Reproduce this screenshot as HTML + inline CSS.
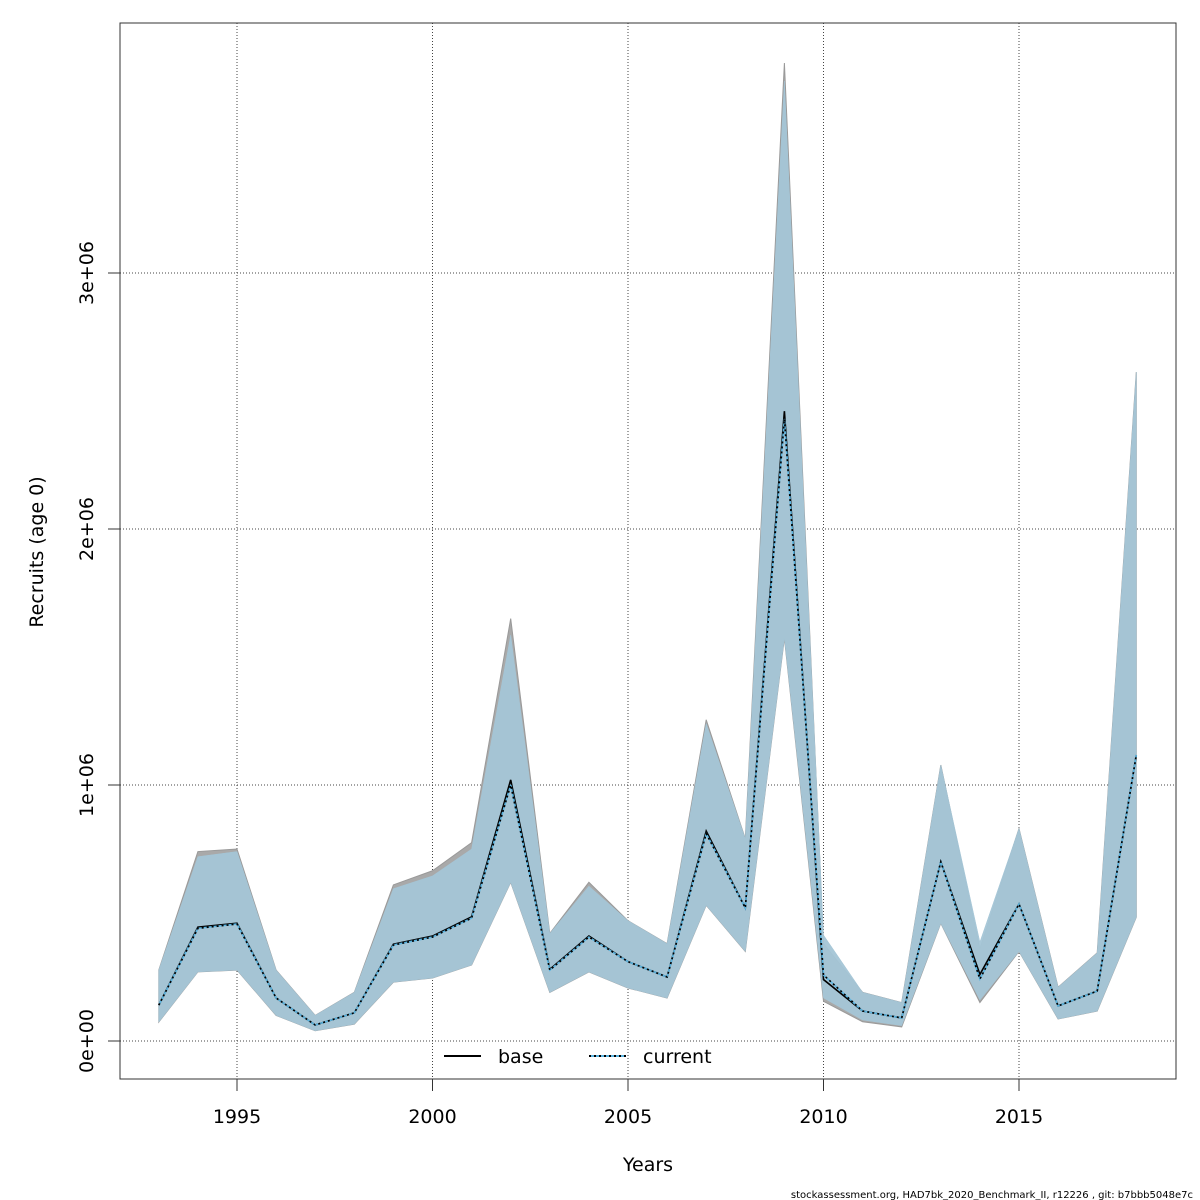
<!DOCTYPE html>
<html><head><meta charset="utf-8"><style>
html,body{margin:0;padding:0;background:#fff;}
svg{display:block;font-family:"DejaVu Sans","Liberation Sans",sans-serif;}
</style></head><body>
<svg id="chart" width="1200" height="1200">
<rect width="1200" height="1200" fill="#fff"/>
</svg>
<script>
const years=[1993,1994,1995,1996,1997,1998,1999,2000,2001,2002,2003,2004,2005,2006,2007,2008,2009,2010,2011,2012,2013,2014,2015,2016,2017,2018];
const curMean=[0.14,0.44,0.457,0.168,0.0625,0.11,0.375,0.406,0.48,1.0,0.277,0.406,0.31,0.25,0.81,0.52,2.43,0.258,0.117,0.09,0.70,0.242,0.535,0.137,0.195,1.117];
const curLow=[0.074,0.27,0.277,0.10,0.04,0.066,0.23,0.246,0.297,0.62,0.19,0.27,0.207,0.168,0.53,0.35,1.574,0.168,0.082,0.06,0.46,0.16,0.35,0.086,0.117,0.484];
const curHigh=[0.277,0.72,0.74,0.277,0.10,0.19,0.595,0.645,0.75,1.586,0.42,0.605,0.47,0.38,1.24,0.79,3.75,0.414,0.19,0.15,1.078,0.387,0.83,0.21,0.344,2.613];
const baseMean=[0.14,0.445,0.46,0.168,0.0625,0.11,0.378,0.41,0.485,1.02,0.28,0.41,0.31,0.25,0.82,0.52,2.46,0.24,0.117,0.09,0.70,0.26,0.535,0.137,0.195,1.117];
const baseLow=[0.074,0.27,0.277,0.10,0.04,0.066,0.23,0.246,0.297,0.62,0.19,0.27,0.207,0.168,0.53,0.35,1.574,0.155,0.075,0.055,0.46,0.15,0.35,0.086,0.117,0.484];
const baseHigh=[0.277,0.74,0.75,0.277,0.10,0.19,0.61,0.665,0.775,1.65,0.42,0.62,0.47,0.38,1.255,0.79,3.82,0.38,0.19,0.15,1.078,0.36,0.83,0.21,0.344,2.613];
const xTicks=[1995,2000,2005,2010,2015];
const yTicks=[0,1,2,3];
const yTickLabels=["0e+00","1e+06","2e+06","3e+06"];

const NS="http://www.w3.org/2000/svg";
const svg=document.getElementById('chart');
const X=y=>237+(y-1995)*39.1;
const Y=v=>1041-v*256;
function mk(t,a,parent){const e=document.createElementNS(NS,t);for(const k in a)e.setAttribute(k,a[k]);(parent||svg).appendChild(e);return e;}

xTicks.forEach(t=>{
  const g=mk('line',{x1:X(t),x2:X(t),y1:23,y2:1079,stroke:'#444','stroke-width':1,'stroke-dasharray':'1,2'});
  
  
});
yTicks.forEach(t=>{
  const g=mk('line',{x1:120,x2:1176,y1:Y(t),y2:Y(t),stroke:'#444','stroke-width':1,'stroke-dasharray':'1,2'});
  
  
});

function bandPts(lo,hi){
  const up=years.map((y,i)=>X(y)+','+Y(hi[i]));
  const dn=years.map((y,i)=>X(y)+','+Y(lo[i])).reverse();
  return up.concat(dn).join(' ');
}
const bb=mk('polygon',{points:bandPts(baseLow,baseHigh),fill:'#a9a9a9',stroke:'#999','stroke-width':1});


const cb=mk('polygon',{points:bandPts(curLow,curHigh),fill:'#a4c5d6',stroke:'#a4c5d6','stroke-width':0.5,'fill-opacity':0.95});



const line=arr=>years.map((y,i)=>X(y)+','+Y(arr[i])).join(' ');
const bl=mk('polyline',{points:line(baseMean),fill:'none',stroke:'#000','stroke-width':1.6});


const cl1=mk('polyline',{points:line(curMean),fill:'none',stroke:'#5ab4e0','stroke-width':1.6});


const cl2=mk('polyline',{points:line(curMean),fill:'none',stroke:'#000','stroke-width':1.6,'stroke-dasharray':'2,3'});



const fr=mk('rect',{x:120,y:23,width:1056,height:1056,fill:'none',stroke:'#333','stroke-width':1});



xTicks.forEach(t=>{
  const l=mk('line',{x1:X(t),x2:X(t),y1:1079,y2:1091,stroke:'#333'});
  
  
  const tx=mk('text',{x:X(t),y:1123,'text-anchor':'middle','font-size':19,fill:'#000'});
  tx.textContent=t;
  
  
});
yTicks.forEach((t,i)=>{
  const l=mk('line',{x1:108,x2:120,y1:Y(t),y2:Y(t),stroke:'#333'});
  
  
  const tx=mk('text',{x:0,y:0,'text-anchor':'middle','font-size':19,fill:'#000',transform:`translate(93,${Y(t)}) rotate(-90)`});
  tx.textContent=yTickLabels[i];
  
  
});
</script>
<svg style="position:absolute;left:0;top:0" width="1200" height="1200">
<text x="648" y="1171" text-anchor="middle" font-size="19" font-family="DejaVu Sans, Liberation Sans, sans-serif">Years</text>
<text transform="translate(43,552) rotate(-90)" text-anchor="middle" font-size="19" font-family="DejaVu Sans, Liberation Sans, sans-serif">Recruits (age 0)</text>
<g>
<line x1="444" x2="481" y1="1056" y2="1056" stroke="#000" stroke-width="2"/>
<text x="498" y="1063" font-size="19" font-family="DejaVu Sans, Liberation Sans, sans-serif">base</text>
<line x1="589" x2="626" y1="1056" y2="1056" stroke="#5ab4e0" stroke-width="2"/>
<line x1="589" x2="626" y1="1056" y2="1056" stroke="#000" stroke-width="2" stroke-dasharray="2,3"/>
<text x="643" y="1063" font-size="19" font-family="DejaVu Sans, Liberation Sans, sans-serif">current</text>
</g>
<text x="1193" y="1198" text-anchor="end" font-size="10" font-family="DejaVu Sans, Liberation Sans, sans-serif">stockassessment.org, HAD7bk_2020_Benchmark_II, r12226 , git: b7bbb5048e7c</text>
</svg>
</body></html>
